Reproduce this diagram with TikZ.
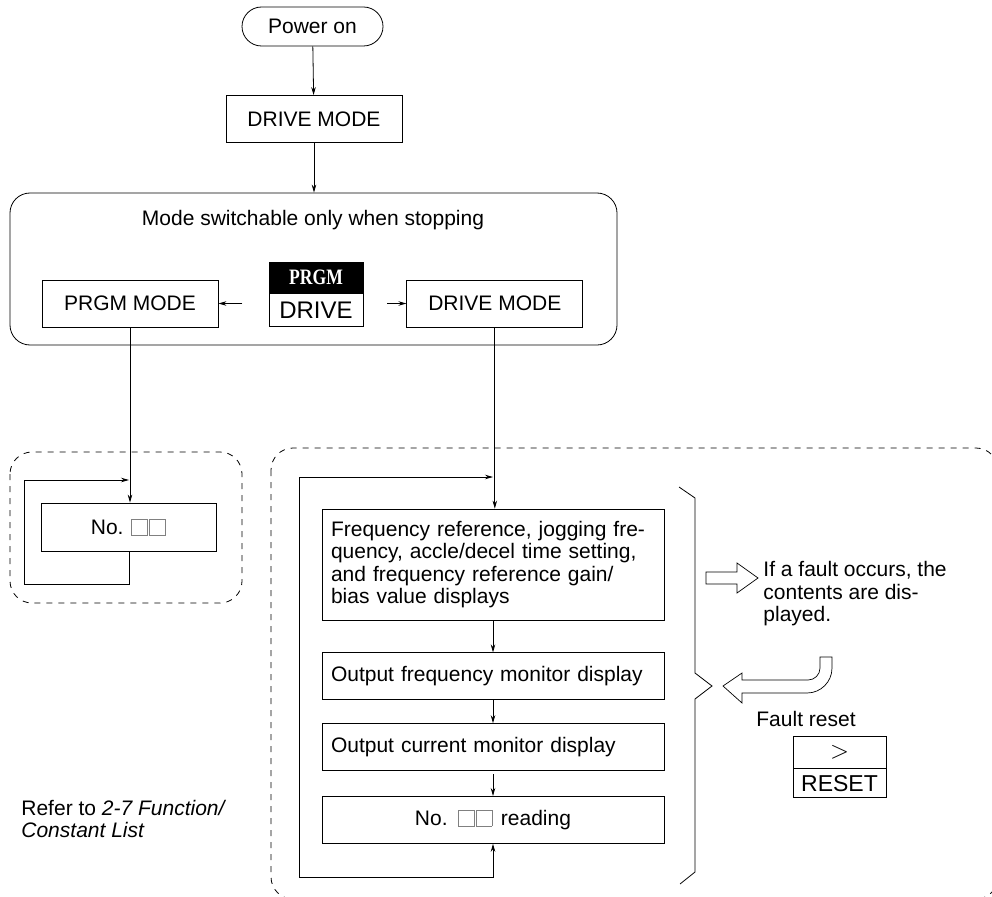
\documentclass[tikz,border=0pt]{standalone}
\usepackage{graphicx}
\usepackage{fontspec}
\setmainfont{Liberation Sans}
\newfontfamily\keyserif{Liberation Serif}
\usetikzlibrary{arrows.meta,positioning,calc}

\newcommand\sqmark{{\color{gray}\fboxsep=0pt\fboxrule=0.7pt\fbox{\rule{0pt}{15pt}\rule{15pt}{0pt}}}\kern1.5pt}

\begin{document}
\begin{tikzpicture}[x=1pt,y=1pt,->,>={Stealth[length=8pt,width=4.5pt]},line width=0.8pt,
    font=\fontsize{21}{22.5}\selectfont,
    mode box/.style={draw,minimum width=176pt,minimum height=47pt,inner sep=0pt},
    disp box/.style={draw,minimum width=342pt,minimum height=47pt,text width=324pt,
      inner xsep=9pt,inner ysep=0pt,align=left},
    dash box/.style={draw,-,dash pattern=on 6pt off 6pt,rounded corners=22pt},
    hollow/.style={draw,-,fill=white,line width=0.7pt},
    key top/.style={draw,fill=black,text=white,minimum width=94pt,minimum height=31pt,
      inner sep=0pt,font=\keyserif\bfseries\fontsize{22}{22}\selectfont},
    key bot/.style={draw,minimum width=94pt,minimum height=33pt,inner sep=0pt,
      font=\fontsize{24}{24}\selectfont}]
  \useasboundingbox (0,0) rectangle (992,-896);

  % top of the chart
  \node[draw,rounded corners=19.5pt,minimum width=141pt,minimum height=39pt] (power) at (312.5,-26.5) {Power on};
  \node[mode box] (drive) at (314,-119) {DRIVE MODE};
  \node[draw,rounded corners=20pt,minimum width=607pt,minimum height=152pt] (frame) at (313.5,-269) {};
  \node (title) at (313,-220) {Mode switchable only when stopping};
  \node[mode box] (prgm) at (130,-303.5) {PRGM MODE};
  \node[mode box] (drive2) [right=188pt of prgm] {DRIVE MODE};
  \node[key top] (keytop) at (316,-277.5) {\scalebox{0.8}[1]{PRGM}};
  \node[key bot] (keybot) [below=0pt of keytop] {DRIVE};

  \path
    (power) edge (drive)
    (drive) edge (drive |- frame.north)
    ($(prgm.east)+(24,0)$) edge (prgm.east)
    ($(drive2.west)+(-19,0)$) edge (drive2.west)
  ;

  % PRGM side
  \draw[dash box] (10,-452) rectangle (242,-603);
  \node[draw,minimum width=175pt,minimum height=48pt,inner sep=0pt] (nobox) at (129,-527) {No. \sqmark\sqmark};
  \coordinate (lloop) at (24,-480);
  \draw (prgm.south) -- (prgm.south |- nobox.north);
  \draw (nobox.south) -- ++(0,-33) -| (lloop) -- (lloop -| nobox.north);
  \node[anchor=west,align=left,inner sep=0pt] (refer) at (21,-819)
    {Refer to \textit{2-7 Function/}\\\textit{Constant List}};

  % DRIVE side
  \begin{scope}
    \clip (0,0) rectangle (992,-896);
    \draw[dash box] (271,-448) rectangle (998,-899);
  \end{scope}
  \node[disp box,minimum height=111pt] (freq) at (493,-564.5)
    {Frequency reference, jogging fre-\\quency, accle/decel time setting,\\and frequency reference gain/\\bias value displays};
  \node[disp box] (ofreq) [below=32pt of freq] {Output frequency monitor display};
  \node[disp box] (ocur) [below=23pt of ofreq] {Output current monitor display};
  \node[disp box,align=center] (reading) [below=25pt of ocur] {No. \sqmark\sqmark\ reading};
  \coordinate (rtop) at (299,-477);
  \coordinate (rbot) at (299,-877);

  \draw (drive2.south) -- (drive2.south |- freq.north);
  \path
    (freq) edge (ofreq)
    (ofreq) edge (ocur)
    ([yshift=-3pt]ocur.south) edge (reading)
  ;
  \draw[<->] (rtop -| freq.north) -- (rtop) -- (rbot) -- (rbot -| reading.south) -- (reading.south);

  % brace and fault arrows
  \draw[-] (679,-487) -- (695,-498) -- (695,-673) -- (712,-686) -- (695,-699) -- (695,-872) -- (680,-884);
  \draw[hollow] (706,-572) -- (737,-572) -- (737,-563) -- (758,-578) -- (737,-593) -- (737,-584) -- (706,-584) -- cycle;
  \draw[hollow] (820,-657) -- (832,-657) -- (832,-668) to[out=-90,in=0] (807,-693) -- (742,-693) -- (742,-703)
    -- (723,-686) -- (742,-673) -- (742,-680) -- (808,-680) to[out=0,in=-90] (820,-668) -- cycle;
  \node[anchor=west,align=left,inner sep=0pt] (fault) at (763,-594)
    {If a fault occurs, the\\contents are dis-\\played.};
  \node[anchor=west,inner sep=0pt] (resetlabel) at (756,-719) {Fault reset};
  \node[draw,minimum width=93pt,minimum height=32pt,inner sep=0pt,font=\fontsize{25}{25}\selectfont] (resettop) at (839.5,-752) {$>$};
  \node[draw,minimum width=93pt,minimum height=29pt,inner sep=0pt,font=\fontsize{23}{23}\selectfont]
    (resetbot) [below=0pt of resettop] {RESET};
\end{tikzpicture}
\end{document}
